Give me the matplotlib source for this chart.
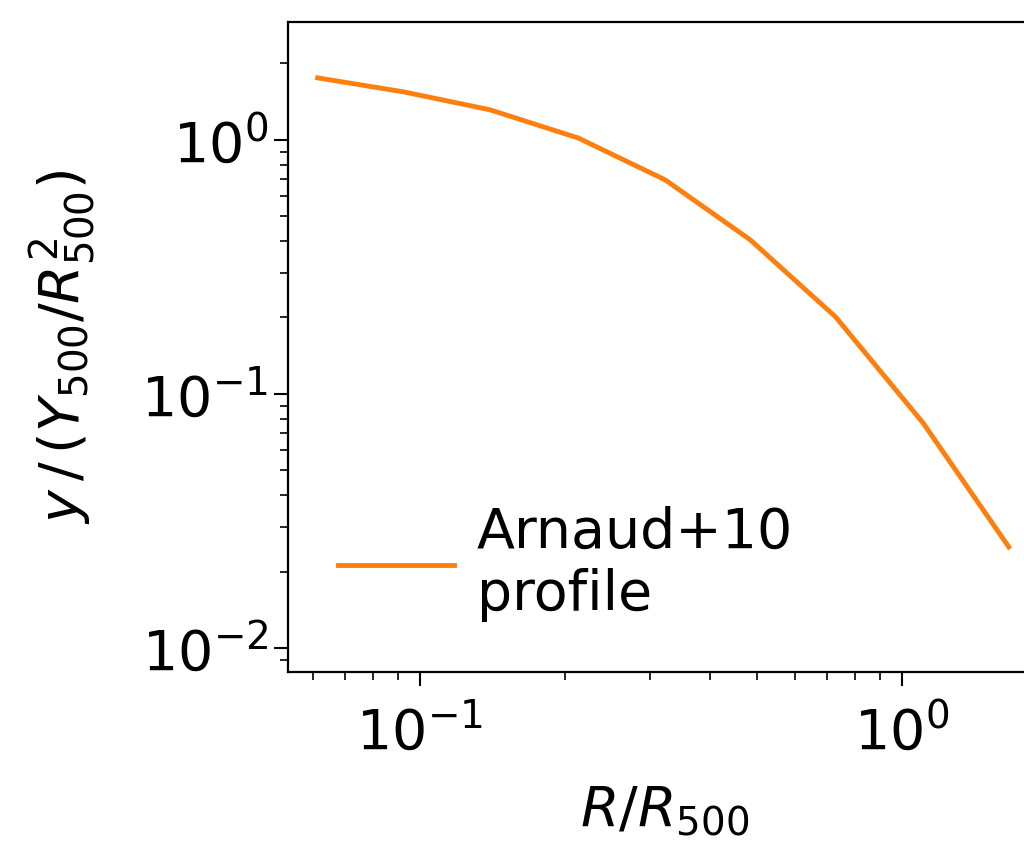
import matplotlib
matplotlib.use('Agg')
import matplotlib.pyplot as plt
import numpy as np

# Arnaud+10 pressure profile
r_over_r500 = [0.0614, 0.0927, 0.140, 0.213, 0.323, 0.485, 0.729, 1.107, 1.667]
y_profile = [1.755, 1.545, 1.313, 1.018, 0.696, 0.404, 0.201, 0.0769, 0.0250]

fig = plt.figure(figsize=(10.24, 8.42), dpi=100)
# the original figure is cropped on the right, so the axes run past the edge
ax = fig.add_axes([0.281, 0.202, 0.737, 0.772])

ax.plot(r_over_r500, y_profile, color='#ff7f0e', lw=3.5, label='Arnaud+10\nprofile')
ax.set_xscale('log')
ax.set_yscale('log')
ax.set_xlim(0.0532, 10**0.2918)
ax.set_ylim(0.00805, 2.915)

ax.tick_params(axis='both', which='major', labelsize=40, length=10, width=1.5)
ax.tick_params(axis='x', which='major', pad=14)
ax.tick_params(axis='y', which='major', pad=4)
ax.tick_params(axis='both', which='minor', length=5.5, width=1.2)
for s in ax.spines.values():
    s.set_linewidth(1.6)

ax.set_xlabel(r'$R/R_{500}$', fontsize=40, labelpad=16)
ax.set_ylabel(r'$y\,/\,(Y_{500}/R^2_{500})$', fontsize=40, labelpad=32)

ax.legend(loc='lower left', frameon=False, fontsize=40, handlelength=2.1,
          handletextpad=0.4, bbox_to_anchor=(0.0, 0.0))

fig.savefig('out.png', dpi=100)
